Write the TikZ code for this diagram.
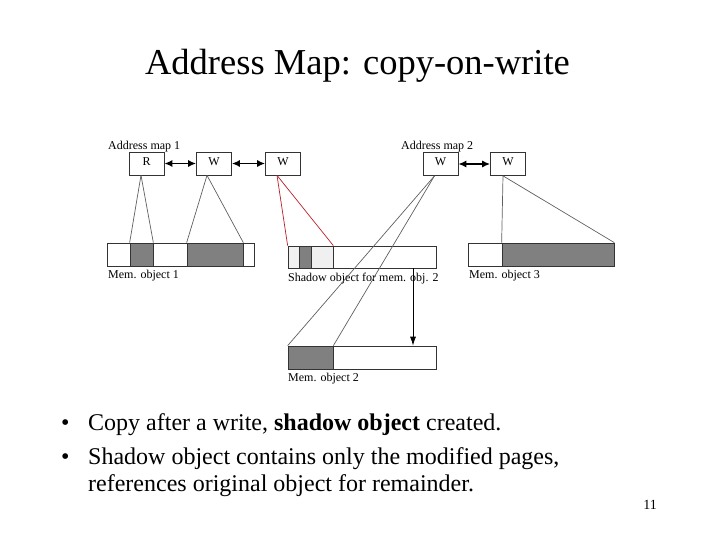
\documentclass[tikz,border=0pt]{standalone}
\usepackage{fontspec}
\setmainfont{Liberation Serif}
\usetikzlibrary{arrows.meta,positioning}
\definecolor{cowred}{RGB}{185,30,40}
\definecolor{linkgray}{RGB}{95,95,95}
\tikzset{>={Latex[length=8pt,width=7pt]},every node/.style={font=\fontsize{12}{14}\selectfont},
 entry/.style={draw=black!80,line width=.7pt,minimum width=35pt,minimum height=23pt,inner sep=0pt,text depth=4pt},
 seg/.style={draw=black!80,line width=.7pt,minimum height=23pt,inner sep=0pt},
 lbl/.style={anchor=base west,inner sep=0pt},
 link/.style={linkgray,line width=.7pt},
 bul/.style={anchor=base west,inner sep=0pt,font=\fontsize{24}{28}\selectfont}}

\begin{document}
\begin{tikzpicture}[x=1pt,y=-1pt]
\useasboundingbox (0,0) rectangle (720,540);
\node[anchor=base,inner sep=0pt,font=\fontsize{36.5}{40}\selectfont] (ttl) at (357.5,75) {Address Map: copy-on-write};
% address maps
\node[entry] (r) at (146.5,163.5) {R};
\node[entry] (w1) at (214,163.5) {W};
\node[entry] (w2) at (283,163.5) {W};
\node[entry] (w3) at (440.5,164) {W};
\node[entry] (w4) at (508,164) {W};
\node[lbl] (am1) at (108,149.5) {Address map 1};
\node[lbl] (am2) at (401,150) {Address map 2};
\draw[<->,line width=1.4pt] (r) -- (w1);\draw[<->,line width=1.4pt] (w1) -- (w2);\draw[<->,line width=1.4pt] (w3) -- (w4);
% memory objects
\foreach \n/\x/\w/\f in {m1a/118.5/23/white,m1b/141.5/23/gray,m1c/170/34/white,m1d/215/56/gray,m1e/248.5/11/white,o3a/485/34/white,o3b/558/112/gray}{\node[seg,minimum width=\w pt,fill=\f] (\n) at (\x,254.5) {};}
\foreach \n/\x/\w/\f in {s1/293.5/11/black!6,s2/305/12/gray,s3/322/22/black!6,s4/384.5/103/white}{\node[seg,minimum width=\w pt,minimum height=22pt,fill=\f] (\n) at (\x,257) {};}
\foreach \n/\x/\w/\f in {o2a/310.5/45/gray,o2b/384.5/103/white}{\node[seg,minimum width=\w pt,fill=\f] (\n) at (\x,357.5) {};}
\node[lbl] (lm1) at (108,278.5) {Mem. object 1};
\node[lbl] (ls) at (288,281) {Shadow object for mem. obj. 2};
\node[lbl] (lm2) at (288,381) {Mem. object 2};
\node[lbl] (lm3) at (469,278.5) {Mem. object 3};
% mappings
\draw[link] ([xshift=-5.5pt]r.south) -- (m1b.north west);\draw[link] ([xshift=-5.5pt]r.south) -- (m1b.north east);
\draw[link] ([xshift=-7pt]w1.south) -- (m1d.north west);\draw[link] ([xshift=-7pt]w1.south) -- (m1d.north east);
\draw[link,cowred] ([xshift=-6pt]w2.south) -- (s1.north west);\draw[link,cowred] ([xshift=-6pt]w2.south) -- (s3.north east);
\draw[link] ([xshift=-6pt]w3.south) -- (o2a.north west);\draw[link] ([xshift=-6pt]w3.south) -- (o2a.north east);
\draw[link] ([xshift=-5pt]w4.south) -- (o3b.north west);\draw[link] ([xshift=-5pt]w4.south) -- (o3b.north east);
\draw[-{Latex[length=9pt,width=6pt]},line width=.8pt] ([xshift=28.5pt]s4.south) -- ([xshift=28.5pt]o2b.north);
% bullets
\node[bul] (d1) at (61,430) {\textbullet};
\node[bul] (b1) at (88,430) {Copy after a write, \textbf{shadow object} created.};
\node[bul] (d2) at (61,464) {\textbullet};
\node[bul] (b2) at (88,464) {Shadow object contains only the modified pages,};
\node[bul] (b3) at (88,491) {references original object for remainder.};
\node[anchor=base,inner sep=0pt,font=\fontsize{14}{16}\selectfont] (pg) at (650,509) {11};
\end{tikzpicture}
\end{document}
